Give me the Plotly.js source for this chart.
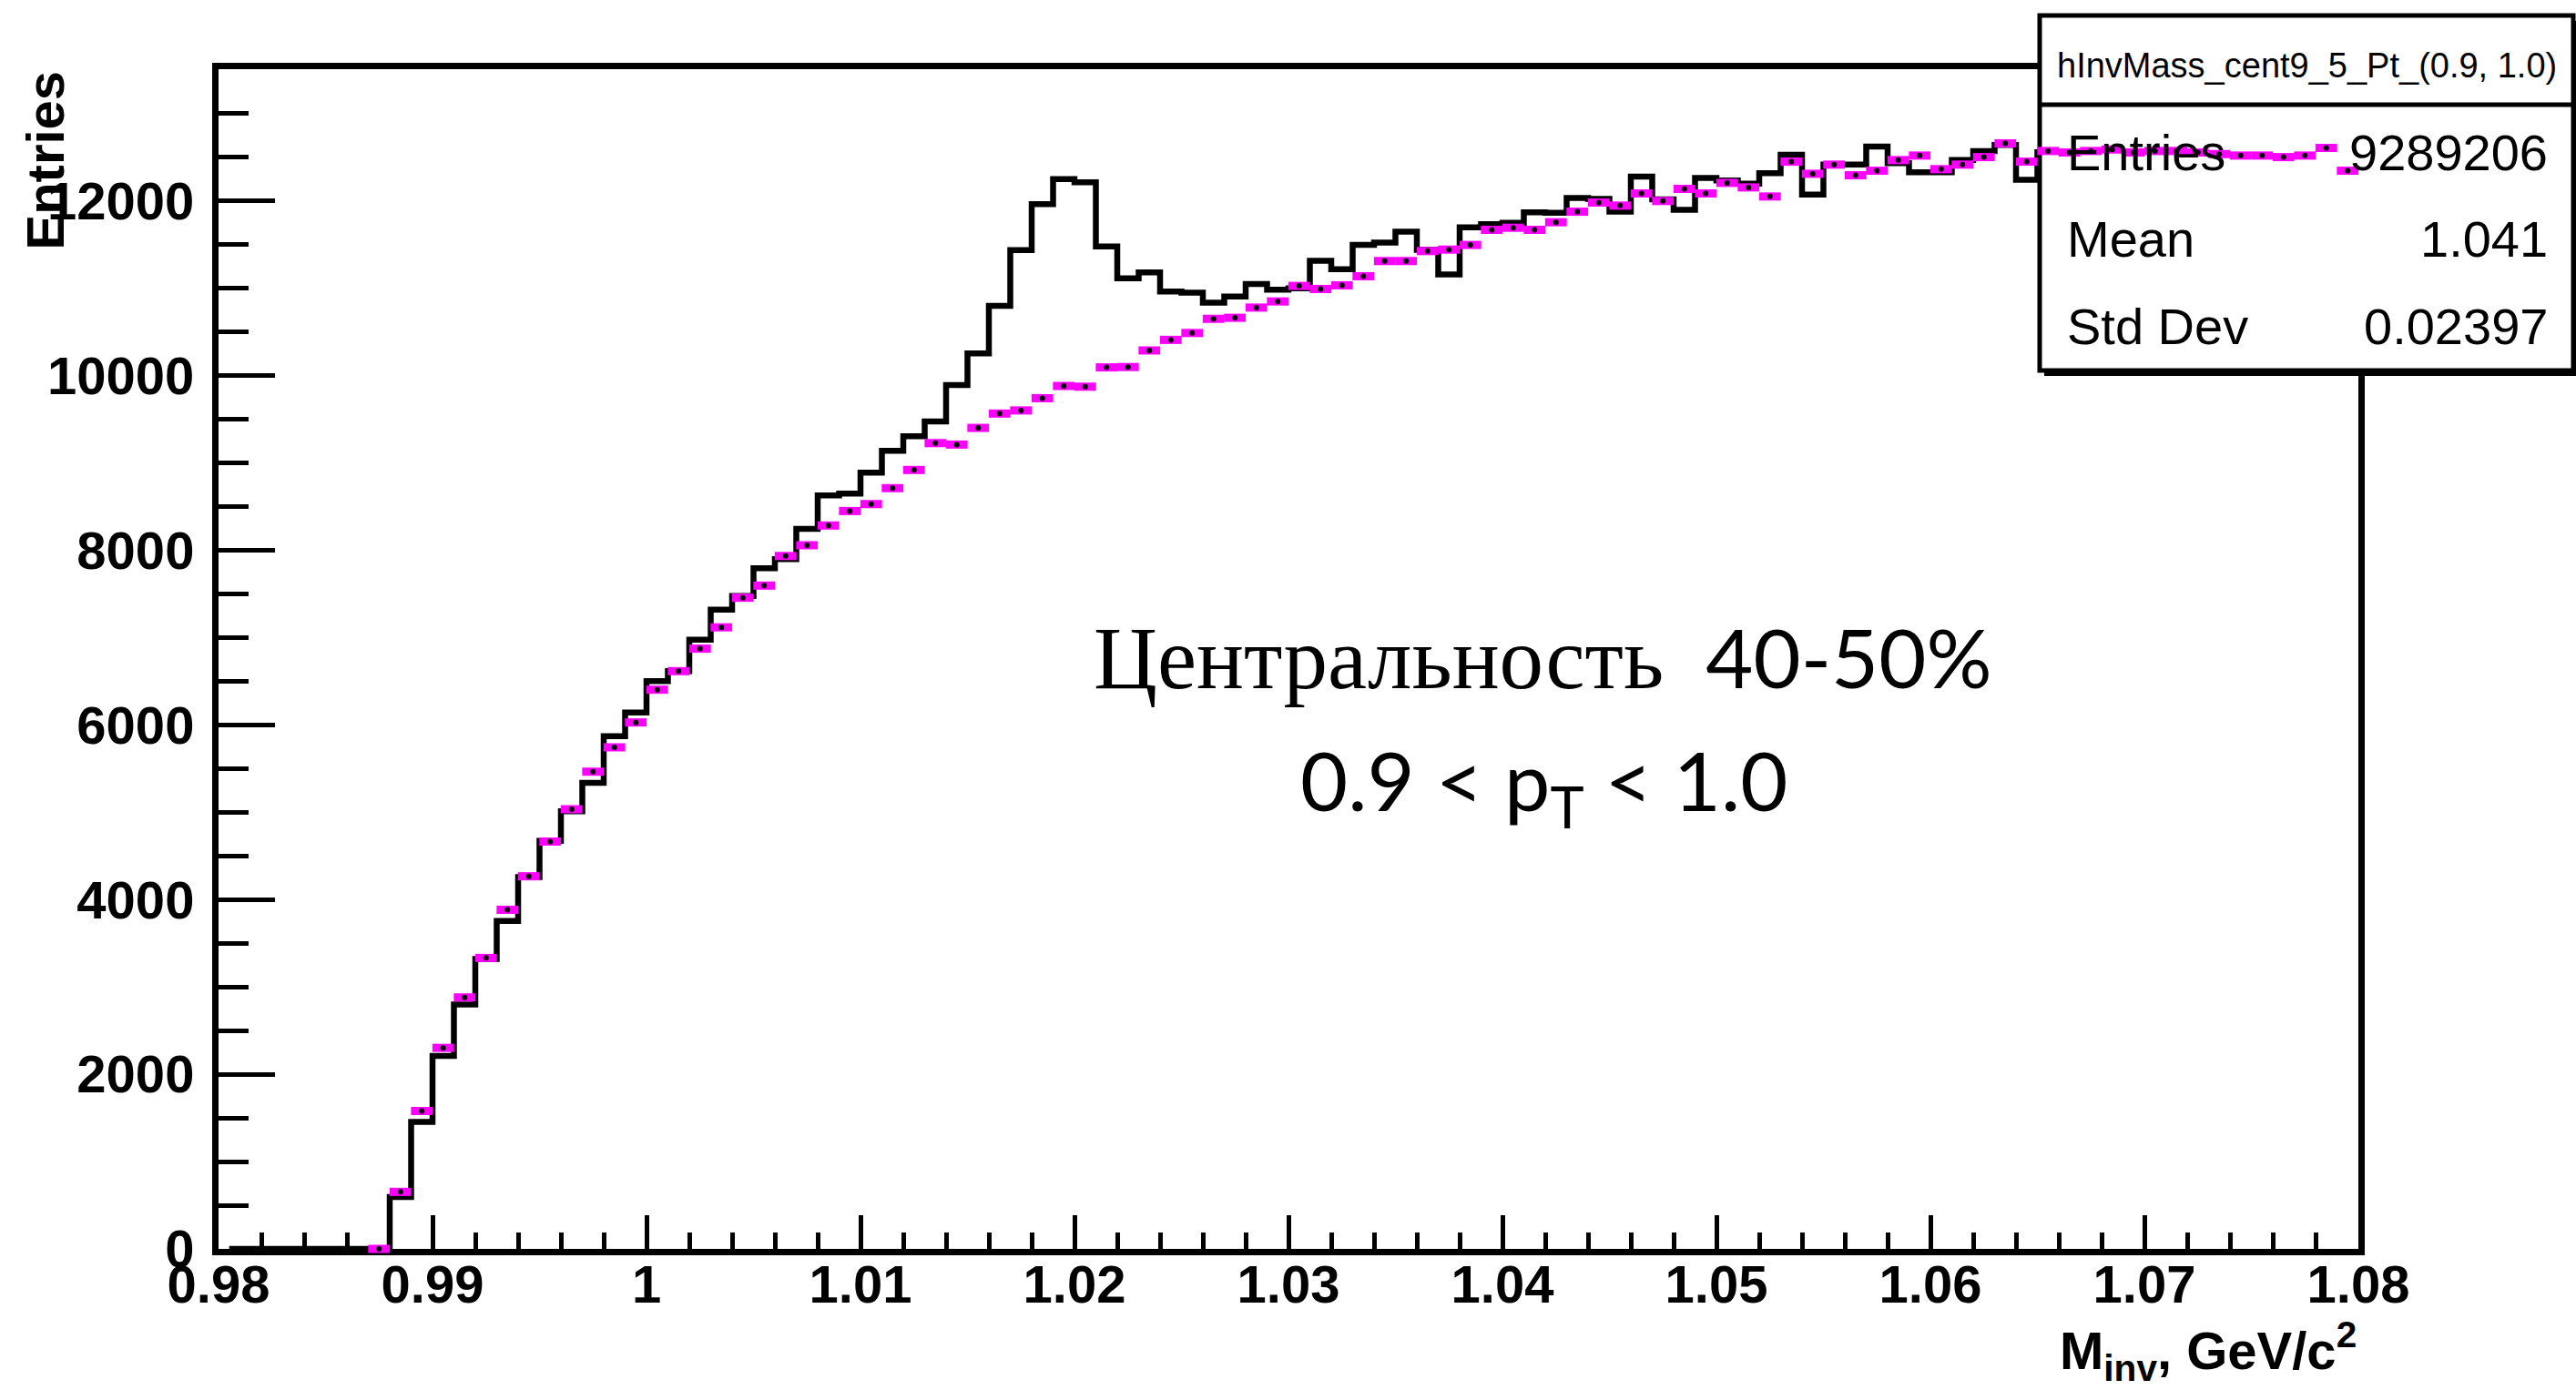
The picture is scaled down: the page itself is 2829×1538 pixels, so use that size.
<!DOCTYPE html>
<html>
<head>
<meta charset="utf-8">
<script src="https://cdn.plot.ly/plotly-3.0.1.min.js"></script>
<style>
html,body{margin:0;padding:0;background:#ffffff;}
#chart{width:2829px;height:1538px;}
</style>
</head>
<body>
<div id="chart"></div>
<script>
// ---------------- data ----------------
const signalBinCenters = [
  0.9805,0.9815,0.9825,0.9835,0.9845,0.9855,0.9865,0.9875,0.9885,0.9895,
  0.9905,0.9915,0.9925,0.9935,0.9945,0.9955,0.9965,0.9975,0.9985,0.9995,
  1.0005,1.0015,1.0025,1.0035,1.0045,1.0055,1.0065,1.0075,1.0085,1.0095,
  1.0105,1.0115,1.0125,1.0135,1.0145,1.0155,1.0165,1.0175,1.0185,1.0195,
  1.0205,1.0215,1.0225,1.0235,1.0245,1.0255,1.0265,1.0275,1.0285,1.0295,
  1.0305,1.0315,1.0325,1.0335,1.0345,1.0355,1.0365,1.0375,1.0385,1.0395,
  1.0405,1.0415,1.0425,1.0435,1.0445,1.0455,1.0465,1.0475,1.0485,1.0495,
  1.0505,1.0515,1.0525,1.0535,1.0545,1.0555,1.0565,1.0575,1.0585,1.0595,
  1.0605,1.0615,1.0625,1.0635,1.0645,1.0655
];
const signalCounts = [
  0,0,0,0,0,0,0,0,595,1453,
  2211,2799,3319,3756,4258,4674,5012,5337,5871,6142,
  6503,6616,6977,7320,7477,7796,7900,8246,8628,8650,
  8890,9140,9306,9475,9893,10255,10800,11437,11965,12250,
  12215,11479,11115,11184,10965,10951,10836,10906,11050,10985,
  11000,11315,11219,11497,11525,11650,11440,11160,11700,11735,
  11750,11870,11865,12035,12025,11878,12280,12020,11900,12265,
  12235,12200,12320,12530,12075,12417,12417,12625,12434,12330,
  12330,12469,12573,12642,12243,12560
];
const backgroundBinCenters = [
  0.9875,0.9885,0.9895,
  0.9905,0.9915,0.9925,0.9935,0.9945,0.9955,0.9965,0.9975,0.9985,0.9995,
  1.0005,1.0015,1.0025,1.0035,1.0045,1.0055,1.0065,1.0075,1.0085,1.0095,
  1.0105,1.0115,1.0125,1.0135,1.0145,1.0155,1.0165,1.0175,1.0185,1.0195,
  1.0205,1.0215,1.0225,1.0235,1.0245,1.0255,1.0265,1.0275,1.0285,1.0295,
  1.0305,1.0315,1.0325,1.0335,1.0345,1.0355,1.0365,1.0375,1.0385,1.0395,
  1.0405,1.0415,1.0425,1.0435,1.0445,1.0455,1.0465,1.0475,1.0485,1.0495,
  1.0505,1.0515,1.0525,1.0535,1.0545,1.0555,1.0565,1.0575,1.0585,1.0595,
  1.0605,1.0615,1.0625,1.0635,1.0645,1.0655,1.0665,1.0675,1.0685,1.0695,
  1.0705,1.0715,1.0725,1.0735,1.0745,1.0755,1.0765,1.0775,1.0785,1.0795
];
const backgroundCounts = [
  0,653,1579,
  2302,2880,3332,3883,4267,4665,5035,5465,5744,6029,
  6404,6616,6874,7118,7457,7596,7935,8058,8284,8450,
  8530,8712,8920,9228,9211,9402,9566,9602,9742,9882,
  9874,10095,10099,10289,10410,10489,10651,10663,10780,10850,
  11028,10993,11035,11139,11313,11313,11427,11444,11497,11670,
  11694,11670,11757,11878,11983,11948,12087,12000,12139,12087,
  12208,12156,12052,12451,12312,12417,12295,12347,12469,12521,
  12365,12417,12503,12660,12451,12573,12556,12573,12590,12556,
  12573,12573,12556,12538,12521,12521,12503,12521,12608,12347
];
const statsTitle = 'hInvMass_cent9_5_Pt_(0.9, 1.0)';
const statsLabels = ['Entries', 'Mean', 'Std Dev'];
const statsValues = ['9289206', '1.041', '0.02397'];
const yAxisTitle = 'Entries';
const xAxisTitle = 'M<sub>inv</sub>, GeV/c<sup>2</sup>';
const noteLine1Word = 'Центральность';
const noteLine1Range = '40-50%';
const noteLine2 = '0.9 &lt; p<sub>T</sub> &lt; 1.0';

// ---------------- layout geometry ----------------
const W = 2829, H = 1538;
const frame = {left: 240, right: 2590, top: 76, bottom: 1372};
const xRange = [0.98, 1.08];
const yRange = [0, 13510];

const pxPerX = (frame.right - frame.left) / (xRange[1] - xRange[0]);
const pxPerY = (frame.bottom - frame.top) / (yRange[1] - yRange[0]);
const overlayXRange = [xRange[0] - frame.left / pxPerX, xRange[1] + (W - frame.right) / pxPerX];
const overlayYRange = [yRange[0] - (H - frame.bottom) / pxPerY, yRange[1] + frame.top / pxPerY];

const tickFont = {family: 'Liberation Sans, Arial, sans-serif', size: 58, color: '#000', weight: 'bold'};

const traces = [
  {
    type: 'scatter', mode: 'lines',
    x: signalBinCenters, y: signalCounts,
    xaxis: 'x', yaxis: 'y',
    line: {color: '#000000', width: 6.5, shape: 'hvh'},
    hoverinfo: 'skip', showlegend: false
  },
  {
    type: 'scatter', mode: 'markers',
    x: backgroundBinCenters, y: backgroundCounts,
    xaxis: 'x3', yaxis: 'y3',
    marker: {symbol: 'line-ew', size: 17, color: '#ff00ff', line: {color: '#ff00ff', width: 9}},
    hoverinfo: 'skip', showlegend: false
  },
  {
    type: 'scatter', mode: 'markers',
    x: backgroundBinCenters, y: backgroundCounts,
    xaxis: 'x3', yaxis: 'y3',
    marker: {symbol: 'circle', size: 6, color: '#000000'},
    hoverinfo: 'skip', showlegend: false
  }
];

const statsBox = {x0: 2240, x1: 2826, y0: 17, y1: 407, divider: 115};

const shapes = [
  {type: 'rect', xref: 'x2', yref: 'y2', layer: 'below',
   x0: statsBox.x0 + 5, x1: statsBox.x1 + 3, y0: statsBox.y0 + 6, y1: statsBox.y1 + 6,
   fillcolor: '#000000', line: {width: 0}},
  {type: 'rect', xref: 'x2', yref: 'y2', layer: 'below',
   x0: statsBox.x0, x1: statsBox.x1, y0: statsBox.y0, y1: statsBox.y1,
   fillcolor: '#ffffff', line: {color: '#000000', width: 5}},
  {type: 'line', xref: 'x2', yref: 'y2', layer: 'below',
   x0: statsBox.x0, x1: statsBox.x1, y0: statsBox.divider, y1: statsBox.divider,
   line: {color: '#000000', width: 5}}
];

const statsFont = {family: 'Liberation Sans, Arial, sans-serif', size: 56, color: '#000'};
const rowY = [167, 262, 358];
const annotations = [
  {xref: 'x2', yref: 'y2', x: 2533, y: 72, text: statsTitle, showarrow: false,
   xanchor: 'center', yanchor: 'middle',
   font: {family: 'Liberation Sans, Arial, sans-serif', size: 38, color: '#000'}},
  {xref: 'x2', yref: 'y2', x: 49, y: frame.top, text: yAxisTitle, showarrow: false,
   textangle: -90, xanchor: 'center', yanchor: 'top',
   font: {family: 'Liberation Sans, Arial, sans-serif', size: 58, color: '#000', weight: 'bold'}},
  {xref: 'x2', yref: 'y2', x: frame.right, y: 1484, text: xAxisTitle, showarrow: false,
   xanchor: 'right', yanchor: 'middle',
   font: {family: 'Liberation Sans, Arial, sans-serif', size: 58, color: '#000', weight: 'bold'}},
  {xref: 'x2', yref: 'y2', x: 1694, y: 722,
   text: '<span style="font-family:Liberation Serif;font-size:97px">' + noteLine1Word + '</span>  ' + noteLine1Range,
   showarrow: false, xanchor: 'center', yanchor: 'middle',
   font: {family: 'Lato, sans-serif', size: 90, color: '#000'}},
  {xref: 'x2', yref: 'y2', x: 1696, y: 862, text: noteLine2, showarrow: false,
   xanchor: 'center', yanchor: 'middle',
   font: {family: 'Lato, sans-serif', size: 90, color: '#000'}}
];
statsLabels.forEach((lab, i) => {
  annotations.push({xref: 'x2', yref: 'y2', x: 2268, y: rowY[i], text: lab, showarrow: false,
    xanchor: 'left', yanchor: 'middle', font: statsFont});
  annotations.push({xref: 'x2', yref: 'y2', x: 2800, y: rowY[i], text: statsValues[i], showarrow: false,
    xanchor: 'right', yanchor: 'middle', font: statsFont});
});

const layout = {
  width: W, height: H,
  margin: {l: 0, r: 0, t: 0, b: 0, pad: 0},
  paper_bgcolor: '#ffffff',
  plot_bgcolor: 'rgba(0,0,0,0)',
  showlegend: false,
  xaxis: {
    domain: [frame.left / W, frame.right / W],
    range: xRange, tick0: 0.98, dtick: 0.01,
    ticks: 'inside', ticklen: 37, tickwidth: 5, tickcolor: '#000',
    minor: {dtick: 0.002, ticks: 'inside', ticklen: 18, tickwidth: 5, tickcolor: '#000', showgrid: false},
    showline: true, linewidth: 7, linecolor: '#000', mirror: true,
    showgrid: false, zeroline: false,
    tickfont: tickFont, ticklabelstandoff: -18,
    fixedrange: true
  },
  yaxis: {
    domain: [(H - frame.bottom) / H, (H - frame.top) / H],
    range: yRange, tick0: 0, dtick: 2000, tickformat: 'd',
    ticks: 'inside', ticklen: 62, tickwidth: 5, tickcolor: '#000',
    minor: {dtick: 500, ticks: 'inside', ticklen: 33, tickwidth: 5, tickcolor: '#000', showgrid: false},
    showline: true, linewidth: 7, linecolor: '#000', mirror: true,
    showgrid: false, zeroline: false,
    tickfont: tickFont, ticklabelstandoff: 8,
    fixedrange: true
  },
  xaxis2: {domain: [0, 1], range: [0, W], visible: false, fixedrange: true},
  yaxis2: {domain: [0, 1], range: [H, 0], visible: false, fixedrange: true},
  xaxis3: {overlaying: 'x2', range: overlayXRange, visible: false, fixedrange: true},
  yaxis3: {overlaying: 'y2', range: overlayYRange, visible: false, fixedrange: true},
  shapes: shapes,
  annotations: annotations
};

Plotly.newPlot('chart', traces, layout, {displayModeBar: false, staticPlot: true});
</script>
</body>
</html>
